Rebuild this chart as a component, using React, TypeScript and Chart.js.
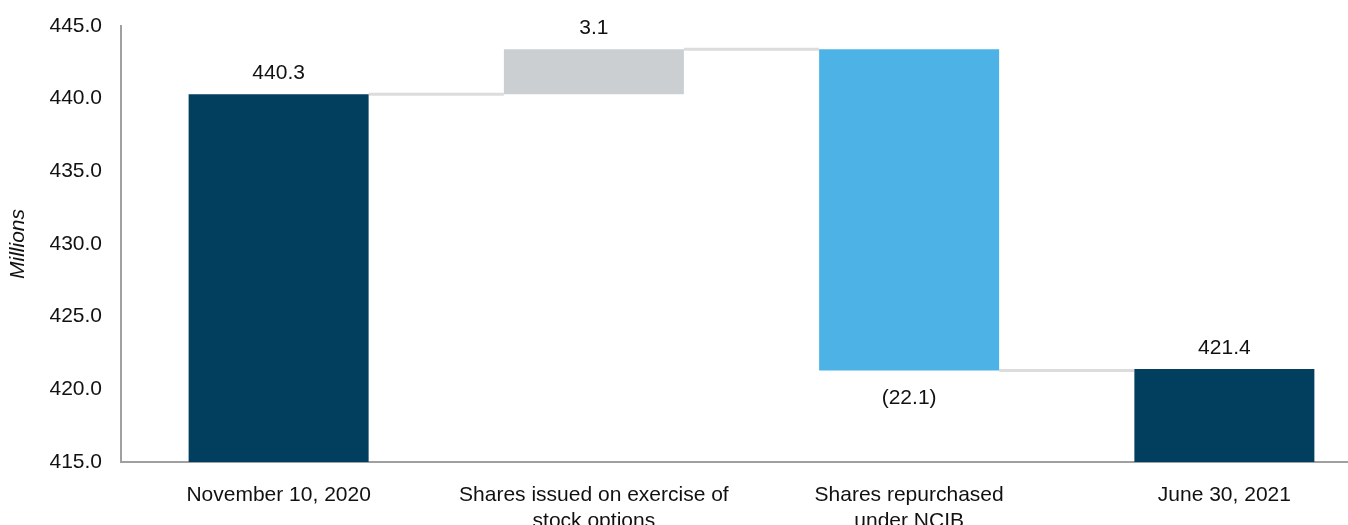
import React, { useEffect, useRef } from "react";
import { Chart, registerables } from "chart.js";

Chart.register(...registerables);

const categories: (string | string[])[] = [
  "November 10, 2020",
  ["Shares issued on exercise of", "stock options"],
  ["Shares repurchased", "under NCIB"],
  "June 30, 2021",
];
const barStart = [415, 440.3, 421.3, 415];
const barEnd = [440.3, 443.4, 443.4, 421.4];
const runningLevel = [440.3, 443.4, 421.3, 421.4];
const valueLabels = ["440.3", "3.1", "(22.1)", "421.4"];
const labelBelow = [false, false, true, false];
const barColors = ["#023f5e", "#cbcfd2", "#4db3e6", "#023f5e"];
const yTicks = [415, 420, 425, 430, 435, 440, 445];

const FONT = "'Liberation Sans', Arial, sans-serif";

const waterfallPlugin = {
  id: "waterfallExtras",
  beforeDatasetsDraw(chart: any) {
    const { ctx } = chart;
    const meta = chart.getDatasetMeta(0);
    const y = chart.scales.y;
    ctx.save();
    ctx.strokeStyle = "#dcdcdc";
    ctx.lineWidth = 3;
    for (let i = 0; i < meta.data.length - 1; i++) {
      const a = meta.data[i];
      const b = meta.data[i + 1];
      const yy = y.getPixelForValue(runningLevel[i]);
      ctx.beginPath();
      ctx.moveTo(a.x + a.width / 2, yy);
      ctx.lineTo(b.x - b.width / 2, yy);
      ctx.stroke();
    }
    ctx.restore();
  },
  afterDatasetsDraw(chart: any) {
    const { ctx } = chart;
    const meta = chart.getDatasetMeta(0);
    const y = chart.scales.y;
    ctx.save();
    ctx.fillStyle = "#111111";
    ctx.font = `21px ${FONT}`;
    ctx.textAlign = "center";
    meta.data.forEach((bar: any, i: number) => {
      if (labelBelow[i]) {
        ctx.textBaseline = "top";
        ctx.fillText(valueLabels[i], bar.x, y.getPixelForValue(barStart[i]) + 17);
      } else {
        ctx.textBaseline = "alphabetic";
        ctx.fillText(valueLabels[i], bar.x, y.getPixelForValue(barEnd[i]) - 15);
      }
    });
    ctx.restore();
  },
};

export default function App() {
  const ref = useRef<HTMLCanvasElement>(null);
  useEffect(() => {
    if (!ref.current) return;
    const chart = new Chart(ref.current, {
      type: "bar",
      data: {
        labels: categories as any,
        datasets: [
          {
            data: barStart.map((s, i) => [s, barEnd[i]]) as any,
            backgroundColor: barColors,
            borderWidth: 0,
            barPercentage: 0.571,
            categoryPercentage: 1,
          },
        ],
      },
      options: {
        animation: false,
        responsive: false,
        maintainAspectRatio: false,
        layout: { padding: { top: 26, left: 2, right: 0, bottom: 0 } },
        plugins: { legend: { display: false }, tooltip: { enabled: false } },
        scales: {
          x: {
            grid: { display: false },
            border: { display: true, color: "#a0a0a0", width: 2 },
            ticks: {
              color: "#111111",
              font: { family: FONT, size: 21 },
              padding: 13,
              maxRotation: 0,
              autoSkip: false,
            },
            afterFit: (scale: any) => {
              scale.height = 63;
            },
          },
          y: {
            min: 415,
            max: 445,
            afterBuildTicks: (scale: any) => {
              scale.ticks = yTicks.map((v) => ({ value: v }));
            },
            grid: { display: false },
            border: { display: true, color: "#a0a0a0", width: 2 },
            ticks: {
              color: "#111111",
              font: { family: FONT, size: 21 },
              padding: 11,
              callback: (v: any) => Number(v).toFixed(1),
            },
            title: {
              display: true,
              text: "Millions",
              color: "#111111",
              font: { family: FONT, size: 21, style: "italic" },
              padding: { top: 4, bottom: 4 },
            },
            afterFit: (scale: any) => {
              scale.width = 119;
            },
          },
        },
      },
      plugins: [waterfallPlugin],
    });
    return () => chart.destroy();
  }, []);
  return (
    <div
      style={{
        position: "fixed",
        left: 0,
        top: 0,
        width: 1348,
        height: 525,
        overflow: "hidden",
        background: "#ffffff",
      }}
    >
      <canvas ref={ref} width={1382} height={525} style={{ width: 1382, height: 525, display: "block" }} />
    </div>
  );
}
